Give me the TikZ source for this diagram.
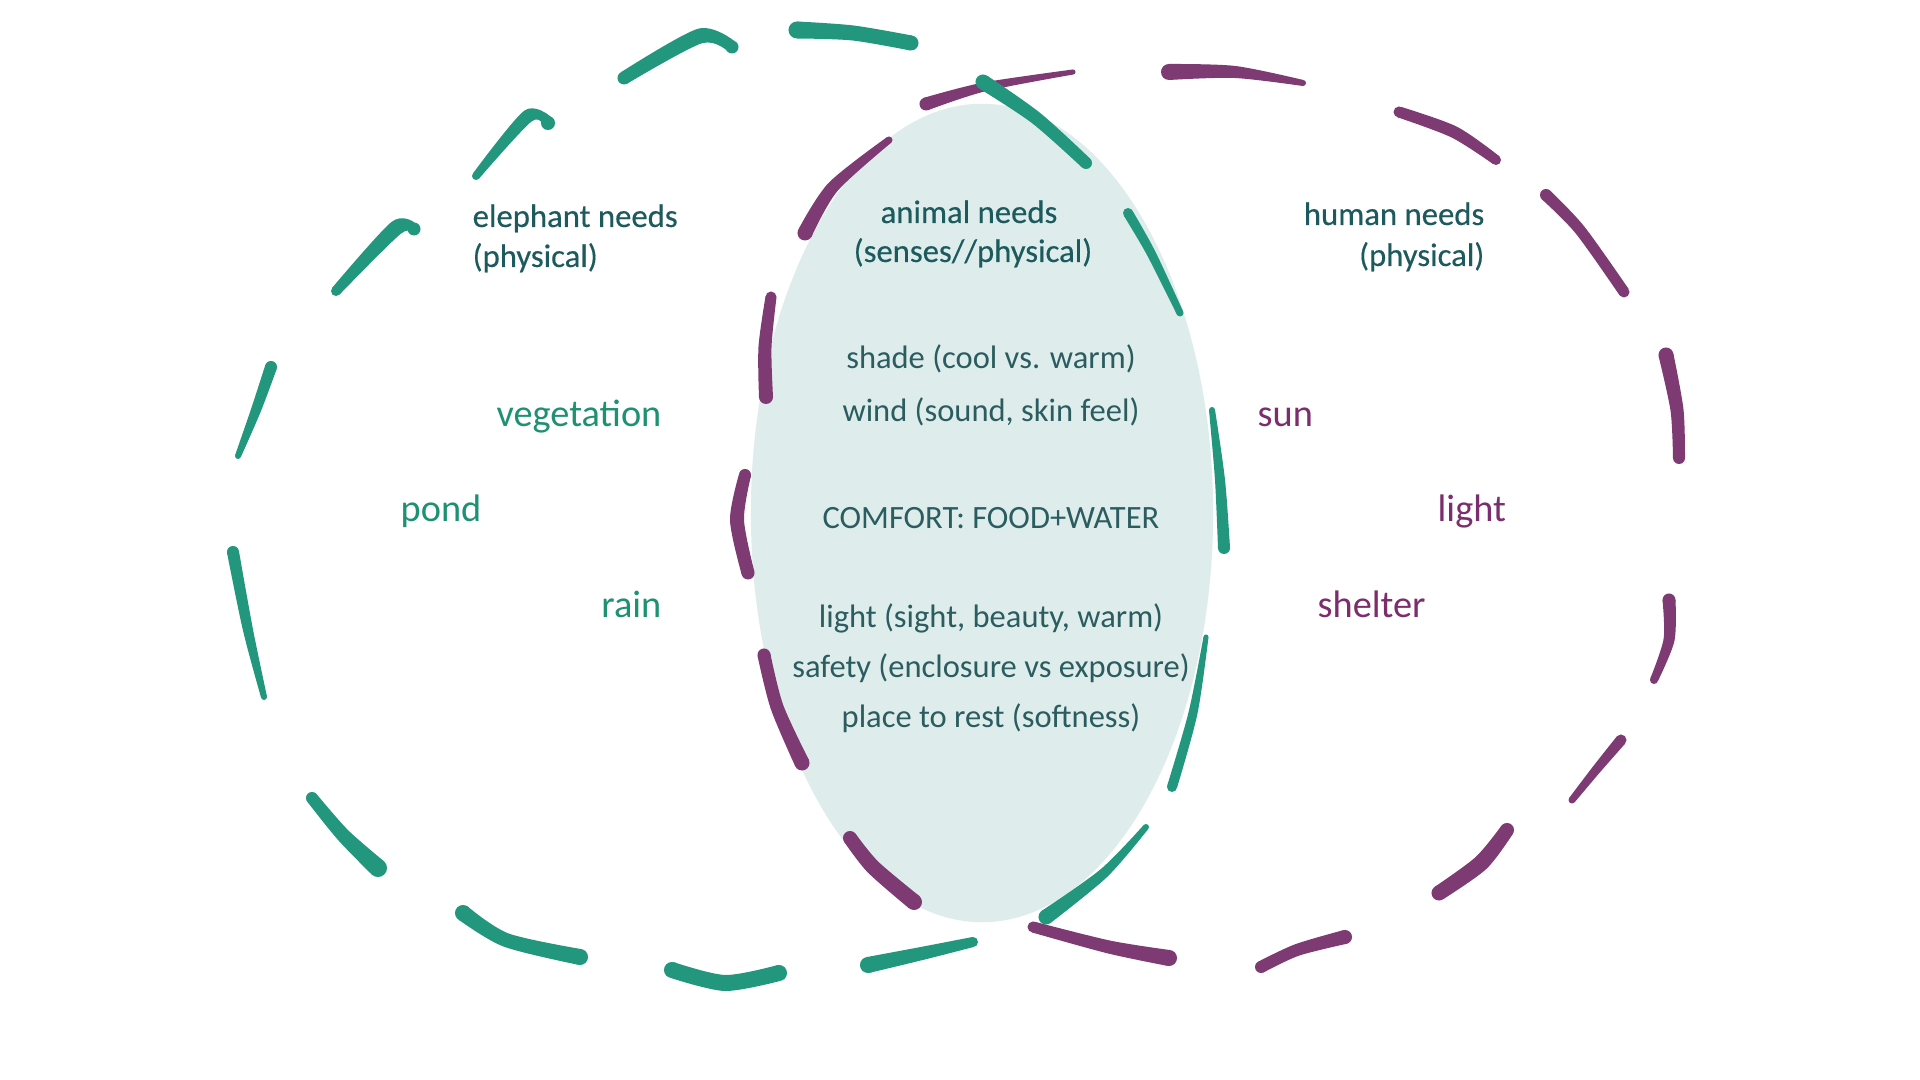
\documentclass[tikz,border=0pt]{standalone}
\usepackage{fontspec}
\usetikzlibrary{calc}
\setmainfont{Carlito}
\newfontfamily\titlefont[FakeBold=0.3]{Carlito}
\definecolor{gstroke}{HTML}{23977D}
\definecolor{pstroke}{HTML}{7E3A72}
\definecolor{titlec}{HTML}{1C5A5E}
\definecolor{bodyc}{HTML}{2A5C60}
\definecolor{glabel}{HTML}{1E9173}
\definecolor{plabel}{HTML}{7B2D6E}
\definecolor{fillc}{HTML}{DEEDEB}
\tikzset{
  ttl/.style={inner sep=0pt, text=titlec, font=\titlefont\fontsize{9.3pt}{11pt}\selectfont},
  bodytext/.style={inner sep=0pt, text=bodyc, anchor=base, font=\fontsize{9.25pt}{11pt}\selectfont},
  glab/.style={inner sep=0pt, text=glabel, font=\fontsize{10.9pt}{13pt}\selectfont},
  plab/.style={inner sep=0pt, text=plabel, font=\fontsize{10.9pt}{13pt}\selectfont}
}
% tapered brush stroke through three points, widths at start, middle, end (px)
\newcommand\brushw[3]{\def\bwA{#1}\def\bwB{#2}\def\bwC{#3}}
\newcommand\brush[4]{%
  \pgfmathsetmacro\bdA{\bwA*0.005}%
  \pgfmathsetmacro\bdB{\bwB*0.005}%
  \pgfmathsetmacro\bdC{\bwC*0.005}%
  \coordinate (bA) at (#2);
  \coordinate (bB) at (#3);
  \coordinate (bC) at (#4);
  \coordinate (bD) at ($(bB)+(bC)-(bA)$);
  \coordinate (bA1) at ($(bA)!\bdA cm!90:(bB)$);
  \coordinate (bA2) at ($(bA)!\bdA cm!-90:(bB)$);
  \coordinate (bB1) at ($(bB)!\bdB cm!90:(bD)$);
  \coordinate (bB2) at ($(bB)!\bdB cm!-90:(bD)$);
  \coordinate (bC1) at ($(bC)!\bdC cm!-90:(bB)$);
  \coordinate (bC2) at ($(bC)!\bdC cm!90:(bB)$);
  \fill[#1] plot[smooth] coordinates {(bA1) (bB1) (bC1)} -- plot[smooth] coordinates {(bC2) (bB2) (bA2)} -- cycle;
  \fill[#1] (bA) circle[radius=\bdA cm];
  \fill[#1] (bC) circle[radius=\bdC cm];
}
\begin{document}
\begin{tikzpicture}[x=0.01cm,y=-0.01cm]
\useasboundingbox[fill=white] (0,0) rectangle (1920,1080);
% central shared area
\fill[fillc] (982,513) ellipse [x radius=2.31cm, y radius=4.09cm];
% purple (human) dashed outline
\brushw{13}{9}{5}\brush{pstroke}{926,104}{984,87}{1073,72}
\brushw{16}{12}{6}\brush{pstroke}{1169,72}{1235,72}{1303,83}
\brushw{11}{12}{10}\brush{pstroke}{1399,112}{1454,132}{1496,160}
\brushw{12}{11}{11}\brush{pstroke}{1546,195}{1580,230}{1624,292}
\brushw{15}{13}{12}\brush{pstroke}{1666,355}{1677,410}{1679,458}
\brushw{13}{11}{8}\brush{pstroke}{1669,600}{1669,640}{1654,680}
\brushw{11}{9}{7}\brush{pstroke}{1621,740}{1596,770}{1572,800}
\brushw{14}{16}{15}\brush{pstroke}{1507,830}{1481,863}{1439,893}
\brushw{14}{12}{12}\brush{pstroke}{1345,937}{1297,950}{1261,967}
\brushw{11}{13}{16}\brush{pstroke}{1033,927}{1109,947}{1169,958}
\brushw{14}{15}{16}\brush{pstroke}{850,838}{873,867}{914,902}
\brushw{13}{13}{15}\brush{pstroke}{764,655}{777,707}{802,763}
\brushw{12}{14}{13}\brush{pstroke}{745,475}{737,520}{748,573}
\brushw{11}{13}{14}\brush{pstroke}{771,297}{765,347}{766,397}
\brushw{15}{12}{7}\brush{pstroke}{805,233}{833,187}{889,140}
% green (elephant) dashed outline
\brushw{17}{15}{15}\brush{gstroke}{797,30}{853,33}{911,43}
\brushw{13}{15}{13}\brush{gstroke}{624,78}{700,36}{732,47}
\brushw{8}{13}{14}\brush{gstroke}{476,176}{528,116}{548,123}
\brushw{10}{15}{13}\brush{gstroke}{336,291}{396,228}{414,229}
\brushw{6}{10}{12}\brush{gstroke}{238,456}{256,410}{271,367}
\brushw{12}{10}{6}\brush{gstroke}{233,552}{248,630}{264,697}
\brushw{12}{14}{18}\brush{gstroke}{312,798}{343,835}{378,868}
\brushw{16}{14}{16}\brush{gstroke}{463,913}{506,940}{580,957}
\brushw{16}{16}{16}\brush{gstroke}{672,970}{725,983}{779,973}
\brushw{16}{13}{10}\brush{gstroke}{868,965}{924,953}{973,942}
\brushw{6}{10}{15}\brush{gstroke}{1146,827}{1104,873}{1046,917}
\brushw{5}{9}{10}\brush{gstroke}{1206,637}{1193,713}{1172,787}
\brushw{6}{10}{12}\brush{gstroke}{1212,410}{1220,480}{1224,548}
\brushw{10}{9}{7}\brush{gstroke}{1128,213}{1151,253}{1180,313}
\brushw{15}{13}{12}\brush{gstroke}{983,82}{1036,118}{1086,163}
% titles
\node[ttl, anchor=base west] (t1a) at (472,227) {elephant needs};
\node[ttl, anchor=base west] (t1b) at (472,267) {(physical)};
\node[ttl, anchor=base] (t2a) at (969,223) {animal needs};
\node[ttl, anchor=base] (t2b) at (973,262) {(senses//physical)};
\node[ttl, anchor=base east] (t3a) at (1485,225) {human needs};
\node[ttl, anchor=base east] (t3b) at (1485,266) {(physical)};
% shared needs
\node[bodytext] (b1) at (991,369) {shade (cool vs. warm)};
\node[bodytext] (b2) at (991,421.5) {wind (sound, skin feel)};
\node[bodytext] (b3) at (991,529) {COMFORT: FOOD+WATER};
\node[bodytext] (b4) at (991,628) {light (sight, beauty, warm)};
\node[bodytext] (b5) at (991,678) {safety (enclosure vs exposure)};
\node[bodytext] (b6) at (991,728) {place to rest (softness)};
% elephant labels
\node[glab, anchor=base east] (g1) at (662,427) {vegetation};
\node[glab, anchor=base west] (g2) at (400,522) {pond};
\node[glab, anchor=base east] (g3) at (662,618) {rain};
% human labels
\node[plab, anchor=base west] (p1) at (1257,427) {sun};
\node[plab, anchor=base west] (p2) at (1437,522) {light};
\node[plab, anchor=base west] (p3) at (1317,618) {shelter};
\end{tikzpicture}
\end{document}
